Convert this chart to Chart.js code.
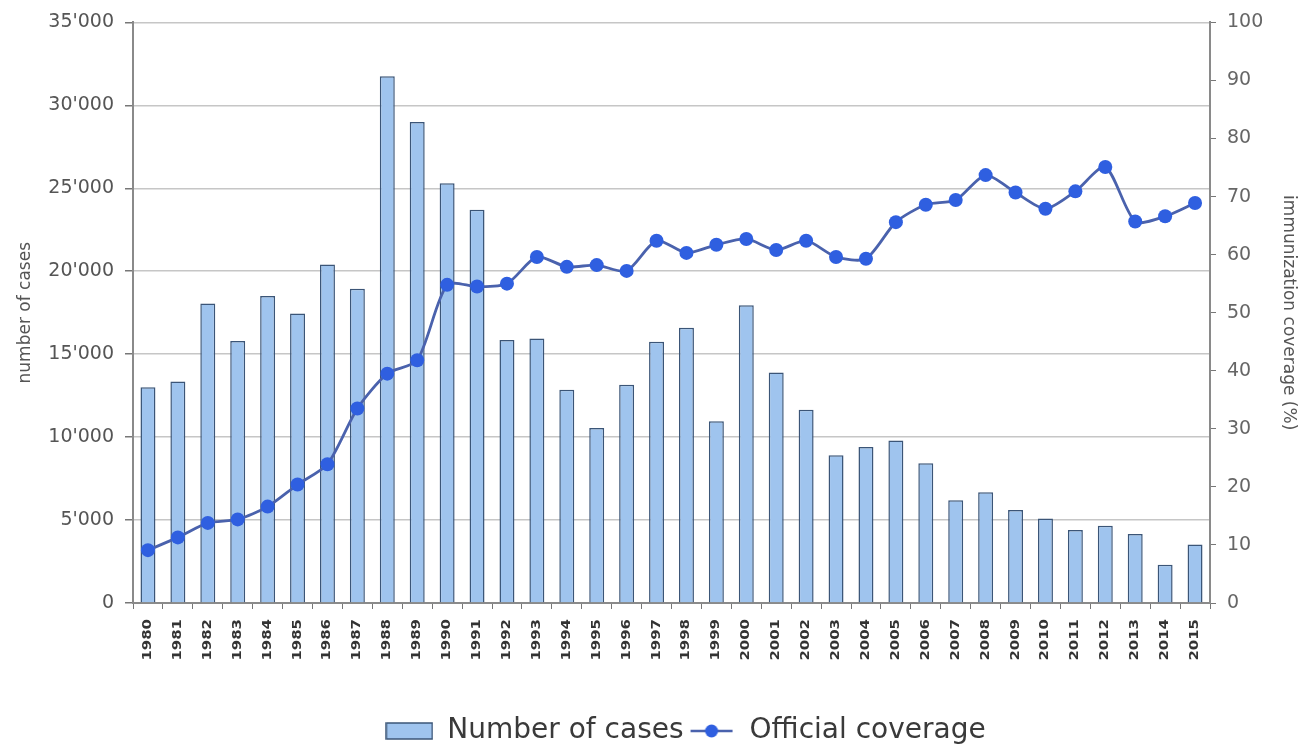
<!DOCTYPE html>
<html>
<head>
<meta charset="utf-8">
<title>Number of cases and official coverage</title>
<script src="https://cdn.jsdelivr.net/npm/chart.js@4.4.1/dist/chart.umd.min.js"></script>
<style>
  html, body { margin: 0; padding: 0; background: #fff; }
  #wrap { width: 1299px; height: 747px; position: relative; }
</style>
</head>
<body>
<div id="wrap"><canvas id="myChart"></canvas></div>
<script>
// Datos ---------------------------------------------------------------
const years = ['1980', '1981', '1982', '1983', '1984', '1985', '1986', '1987', '1988', '1989',
  '1990', '1991', '1992', '1993', '1994', '1995', '1996', '1997', '1998', '1999',
  '2000', '2001', '2002', '2003', '2004', '2005', '2006', '2007', '2008', '2009',
  '2010', '2011', '2012', '2013', '2014', '2015'];

const cases = [13000, 13350, 18050, 15800, 18500, 17450, 20400, 18950, 31750, 29000,
  25300, 23700, 15850, 15950, 12850, 10550, 13150, 15750, 16600, 10950,
  17950, 13900, 11650, 8900, 9400, 9800, 8420, 6200, 6680, 5600,
  5100, 4400, 4660, 4160, 2300, 3530];

const coverage = [9.1, 11.3, 13.8, 14.4, 16.6, 20.4, 23.9, 33.5, 39.5, 41.8,
  54.8, 54.5, 55.0, 59.6, 57.9, 58.2, 57.2, 62.4, 60.3, 61.7,
  62.7, 60.8, 62.4, 59.6, 59.3, 65.6, 68.6, 69.4, 73.7, 70.7,
  67.9, 70.9, 75.1, 65.7, 66.6, 68.9];

const casesLabel = 'Number of cases';
const coverageLabel = 'Official coverage';

// Colores
const barFill = '#9fc4ee';
const barBorder = '#3b5577';
const lineColor = '#4a62ad';
const pointColor = '#2f5fe0';
const gridColor = '#c6c6c6';
const axisColor = '#8a8a8a';
const tickMarkColor = '#777';

Chart.defaults.font.family = '"DejaVu Sans", sans-serif';

// separador de miles tipo 35'000
function fmtThousands(v) {
  return String(v).replace(/\B(?=(\d{3})+(?!\d))/g, "'");
}

// iconos de leyenda
function legendBarIcon() {
  const c = document.createElement('canvas');
  c.width = 48; c.height = 18;
  const g = c.getContext('2d');
  g.fillStyle = barFill;
  g.fillRect(1, 1, 46, 16);
  g.strokeStyle = barBorder;
  g.lineWidth = 1.5;
  g.strokeRect(1, 1, 46, 16);
  return c;
}

function legendLineIcon() {
  const c = document.createElement('canvas');
  c.width = 44; c.height = 18;
  const g = c.getContext('2d');
  g.strokeStyle = lineColor;
  g.lineWidth = 2.5;
  g.beginPath(); g.moveTo(1, 9); g.lineTo(43, 9); g.stroke();
  g.fillStyle = pointColor;
  g.beginPath(); g.arc(22, 9, 6.5, 0, Math.PI * 2); g.fill();
  return c;
}

const icons = [legendBarIcon(), legendLineIcon()];

// etiquetas de años verticales (de abajo hacia arriba)
const yearLabels = {
  id: 'yearLabels',
  afterDraw(chart) {
    const ctx = chart.ctx;
    const xs = chart.scales.x;
    ctx.save();
    ctx.font = 'bold 11.5px "DejaVu Sans"';
    ctx.fillStyle = '#333';
    ctx.textAlign = 'right';
    ctx.textBaseline = 'middle';
    chart.data.labels.forEach((lab, i) => {
      ctx.save();
      ctx.translate(xs.getPixelForValue(i), xs.top + 16);
      ctx.rotate(-Math.PI / 2);
      ctx.scale(1.3, 1);
      ctx.fillText(lab, 0, 0);
      ctx.restore();
    });
    ctx.restore();
  }
};

// mover la leyenda un poco (como en el original)
const legendShift = {
  id: 'legendShift',
  afterLayout(chart) {
    const lg = chart.legend;
    lg.left += 14; lg.right += 14;
    lg.top += 8; lg.bottom += 8;
  }
};

const ctx1 = document.getElementById('myChart');

const chartCases = new Chart(ctx1, {
  type: 'bar',
  data: {
    labels: years,
    datasets: [{
      type: 'bar',
      label: casesLabel,
      data: cases,
      yAxisID: 'y',
      backgroundColor: barFill,
      borderColor: barBorder,
      borderWidth: 1.5,
      barPercentage: 0.5,
      categoryPercentage: 1,
      order: 1
    }, {
      type: 'line',
      label: coverageLabel,
      data: coverage,
      yAxisID: 'y1',
      borderColor: lineColor,
      borderWidth: 2.8,
      tension: 0.25,
      pointRadius: 7,
      pointBackgroundColor: pointColor,
      pointBorderWidth: 0,
      order: 0
    }]
  },
  options: {
    responsive: true,
    maintainAspectRatio: false,
    animation: false,
    layout: { padding: { top: 22, left: 0, right: 0, bottom: 0 } },
    scales: {
      x: {
        grid: {
          display: true,
          offset: true,
          drawOnChartArea: false,
          tickLength: 6,
          color: tickMarkColor
        },
        border: { color: axisColor, width: 2 },
        ticks: { display: false },
        afterFit: (scale) => { scale.height = 102; }
      },
      y: {
        position: 'left',
        min: 0,
        max: 35000,
        ticks: {
          stepSize: 5000,
          color: '#555',
          padding: 11,
          font: { size: 19 },
          callback: (v) => fmtThousands(v)
        },
        grid: {
          color: gridColor,
          lineWidth: 1.5,
          tickLength: 8,
          tickColor: tickMarkColor
        },
        border: { color: axisColor, width: 2 },
        title: {
          display: true,
          text: 'number of cases',
          color: '#555',
          font: { size: 17 },
          padding: { top: 15, bottom: 0 }
        },
        afterFit: (scale) => { scale.width = 133; }
      },
      y1: {
        position: 'right',
        min: 0,
        max: 100,
        ticks: {
          stepSize: 10,
          color: '#666',
          padding: 11,
          font: { size: 19 }
        },
        grid: {
          drawOnChartArea: false,
          tickLength: 6,
          color: tickMarkColor
        },
        border: { color: axisColor, width: 2 },
        title: {
          display: true,
          text: 'immunization coverage (%)',
          color: '#555',
          font: { size: 17 },
          padding: { top: 0, bottom: 0 }
        },
        afterFit: (scale) => { scale.width = 89; }
      }
    },
    plugins: {
      tooltip: { enabled: false },
      legend: {
        display: true,
        position: 'bottom',
        fullSize: false,
        labels: {
          usePointStyle: true,
          pointStyleWidth: 48,
          padding: 4,
          color: '#3a3a3a',
          font: { size: 28 },
          generateLabels: (chart) => chart.data.datasets.map((ds, i) => ({
            text: ds.label,
            pointStyle: icons[i],
            fillStyle: 'transparent',
            strokeStyle: 'transparent',
            lineWidth: 0,
            hidden: false,
            datasetIndex: i,
            fontColor: '#3a3a3a'
          }))
        }
      }
    }
  },
  plugins: [yearLabels, legendShift]
});
</script>
</body>
</html>
